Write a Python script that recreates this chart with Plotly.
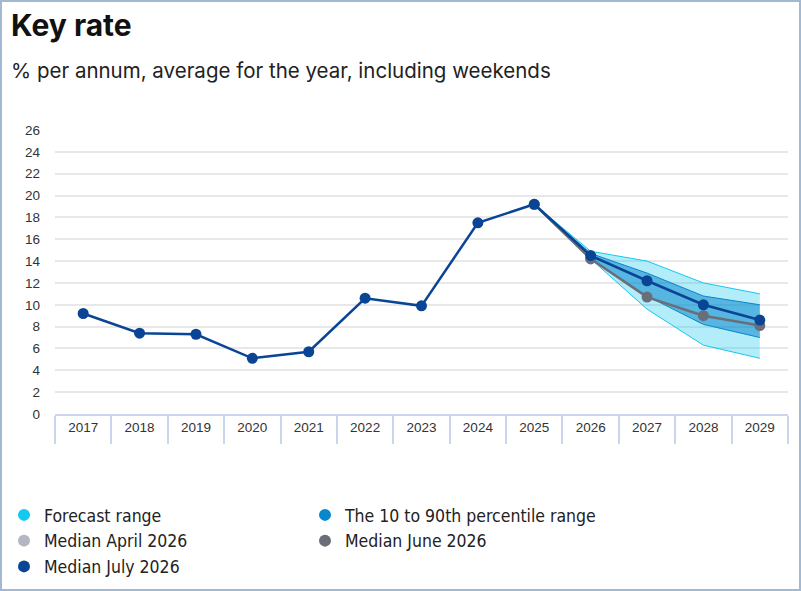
import plotly.graph_objects as go

# data
years = [str(y) for y in range(2017, 2030)]
fc_years = ["2025", "2026", "2027", "2028", "2029"]

key_rate_july = [9.2, 7.4, 7.3, 5.1, 5.7, 10.6, 9.9, 17.5, 19.2, 14.5, 12.2, 10.0, 8.6]
median_june = [19.2, 14.2, 10.7, 9.0, 8.1]

forecast_low = [19.2, 14.2, 9.6, 6.3, 5.1]
forecast_high = [19.2, 14.9, 14.0, 12.0, 11.0]
pct_low = [19.2, 14.2, 10.8, 8.2, 7.0]
pct_high = [19.2, 14.7, 12.9, 10.8, 10.0]

y_ticks = list(range(0, 27, 2))

C_FORECAST = "#14c8f0"
C_PCT = "#0a86cc"
C_APRIL = "#b3b7bf"
C_JUNE = "#6b6e78"
C_JULY = "#0a4595"

fig = go.Figure()

# forecast range band
fig.add_trace(go.Scatter(x=fc_years, y=forecast_low, mode="lines",
                         line=dict(color=C_FORECAST, width=1), showlegend=False,
                         hoverinfo="skip"))
fig.add_trace(go.Scatter(x=fc_years, y=forecast_high, mode="lines", fill="tonexty",
                         fillcolor="rgba(20,200,240,0.32)",
                         line=dict(color=C_FORECAST, width=1), showlegend=False,
                         hoverinfo="skip"))
# percentile band
fig.add_trace(go.Scatter(x=fc_years, y=pct_low, mode="lines",
                         line=dict(color=C_PCT, width=1), showlegend=False,
                         hoverinfo="skip"))
fig.add_trace(go.Scatter(x=fc_years, y=pct_high, mode="lines", fill="tonexty",
                         fillcolor="rgba(10,134,204,0.55)",
                         line=dict(color=C_PCT, width=1), showlegend=False,
                         hoverinfo="skip"))

fig.add_trace(go.Scatter(x=fc_years, y=median_june, mode="lines+markers",
                         line=dict(color=C_JUNE, width=2.5),
                         marker=dict(size=11, color=C_JUNE), showlegend=False))
fig.add_trace(go.Scatter(x=years, y=key_rate_july, mode="lines+markers",
                         line=dict(color=C_JULY, width=2.5),
                         marker=dict(size=11, color=C_JULY), showlegend=False))

# legend entries (round markers)
legend_items = [("Forecast range", C_FORECAST),
                ("The 10 to 90th percentile range", C_PCT),
                ("Median April 2026", C_APRIL),
                ("Median June 2026", C_JUNE),
                ("Median July 2026", C_JULY)]
for name, col in legend_items:
    fig.add_trace(go.Scatter(x=[None], y=[None], mode="markers", name=name,
                             marker=dict(size=14, color=col)))

W, H = 801, 591
L, R, T, B = 55, 13, 130, 177
pw, ph = W - L - R, H - T - B

def px_x(p):
    return (p - L) / pw

def px_y(p):
    return (H - B - p) / ph

fig.update_layout(
    width=W, height=H,
    margin=dict(l=L, r=R, t=T, b=B, autoexpand=False),
    paper_bgcolor="white", plot_bgcolor="white",
    font=dict(family="Liberation Sans, Arial", color="#333333", size=13),
    title=dict(text="<b>Key rate</b>", xref="container", yref="container",
               x=11 / W, y=1 - 25 / H, xanchor="left", yanchor="middle",
               font=dict(family="Inter", size=30, color="#111111")),
    annotations=[dict(text="% per annum, average for the year, including weekends",
                      xref="paper", yref="paper", x=px_x(9), y=px_y(71),
                      xanchor="left", yanchor="middle", showarrow=False,
                      font=dict(family="Inter", size=20.5, color="#222222"))],
    legend=dict(orientation="h", xref="container", yref="container",
                x=4 / W, y=1 - 497 / H, xanchor="left", yanchor="top",
                entrywidth=256, itemsizing="constant", traceorder="normal",
                bgcolor="rgba(0,0,0,0)",
                font=dict(family="Liberation Sans Narrow, DejaVu Sans Condensed",
                          size=17.5, color="#222222")),
    shapes=[dict(type="rect", xref="paper", yref="paper",
                 x0=px_x(1), x1=px_x(W - 1), y0=px_y(H - 1), y1=px_y(1),
                 line=dict(color="#a3b8d3", width=2), layer="above")],
    showlegend=True,
)

fig.update_xaxes(type="category", categoryorder="array", categoryarray=years,
                 range=[-0.5, len(years) - 0.5], tickson="boundaries",
                 ticks="outside", ticklen=28, tickcolor="#cbd6ee", tickwidth=1.5,
                 showline=True, linecolor="#cbd6ee", linewidth=2,
                 showgrid=False, tickfont=dict(size=13.5, color="#333333"),
                 fixedrange=True)
fig.update_yaxes(range=[0, 26], tickvals=y_ticks, showgrid=True,
                 gridcolor="#e8e8e8", gridwidth=1.5, zeroline=False,
                 ticks="", ticklabelstandoff=14,
                 tickfont=dict(size=13.5, color="#333333"), fixedrange=True)

fig.write_html("out.html", config={"displayModeBar": False},
               post_script="document.body.style.margin='0';")
